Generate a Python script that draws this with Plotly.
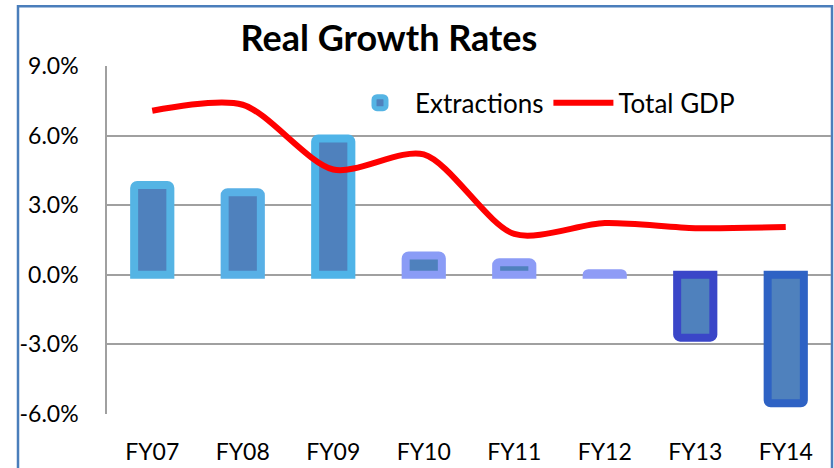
import plotly.graph_objects as go

categories = ["FY07", "FY08", "FY09", "FY10", "FY11", "FY12", "FY13", "FY14"]
extractions = [3.87, 3.56, 5.87, 0.83, 0.54, 0.07, -2.71, -5.54]
total_gdp = [7.07, 7.33, 4.54, 5.19, 1.76, 2.23, 2.01, 2.06]
y_tickvals = [-6, -3, 0, 3, 6, 9]
y_ticktext = ["-6.0%", "-3.0%", "0.0%", "3.0%", "6.0%", "9.0%"]

bar_line_colors = ["#55B4E4", "#58B0E6", "#4FB4E8", "#8A9CF6", "#8C9CF6", "#8F9CF6", "#3A46C8", "#2E62C4"]

FONT = "Lato, Liberation Sans, sans-serif"

fig = go.Figure()
fig.add_trace(go.Bar(
    x=categories, y=extractions, name="Extractions", width=0.4,
    marker=dict(color="#4F81BD", line=dict(color=bar_line_colors, width=8), cornerradius=3),
))
fig.add_trace(go.Scatter(
    x=categories, y=total_gdp, name="Total GDP", mode="lines",
    line=dict(color="#FF0000", width=6, shape="spline", smoothing=0.8),
))

L, R, T, B = 107, 3, 66, 52
W, H = 834, 468
pw, ph = W - L - R, H - T - B

fig.update_layout(
    width=W, height=H,
    margin=dict(l=L, r=R, t=T, b=B, pad=0),
    paper_bgcolor="white", plot_bgcolor="white",
    font=dict(family=FONT, color="black", size=23),
    title=dict(text="<b>Real Growth Rates</b>", font=dict(family=FONT, size=36, color="black"),
               xref="container", x=389 / W, xanchor="center",
               yref="container", y=1 - 38 / H, yanchor="middle"),
    showlegend=True,
    legend=dict(orientation="h", x=(345 - L) / pw, xanchor="left",
                y=(416 - 103) / ph, yanchor="middle",
                font=dict(family=FONT, size=26, color="black"),
                bgcolor="rgba(0,0,0,0)", itemwidth=60, traceorder="normal"),
    bargap=0.6,
    xaxis=dict(showgrid=False, showline=False, ticks="", ticklabelstandoff=22,
               tickfont=dict(family=FONT, size=23), fixedrange=True),
    yaxis=dict(range=[-6, 9], tickvals=y_tickvals, ticktext=y_ticktext,
               showgrid=True, gridcolor="#A0A0A0", gridwidth=1.5,
               zeroline=False, showline=True, linecolor="#A0A0A0", linewidth=1.5,
               ticks="", ticklabelstandoff=22, tickfont=dict(family=FONT, size=23)),
    shapes=[dict(type="rect", xref="paper", yref="paper",
                 x0=(18 - L) / pw, x1=(832 - L) / pw,
                 y0=-0.3, y1=(416 - 6) / ph,
                 line=dict(color="#4A7EBB", width=2.5), fillcolor="rgba(0,0,0,0)", layer="below")],
)

fig.write_html("out.html")
